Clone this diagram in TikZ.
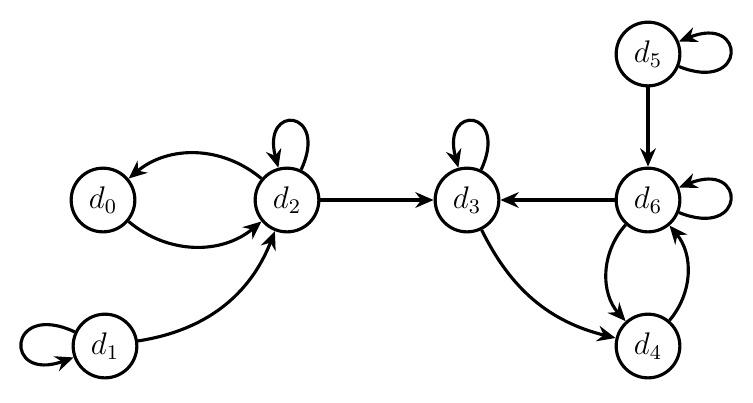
\documentclass[tikz,border=0pt]{standalone}
\usetikzlibrary{arrows.meta}
\begin{document}
\begin{tikzpicture}[x=0.01351cm,y=-0.01351cm,
  st/.style={circle,draw,very thick,minimum size=0.86cm,inner sep=0pt,font=\large},
  ed/.style={very thick,-{Stealth[length=7pt,width=6pt]}},
  lp/.style={looseness=7.5}]
\useasboundingbox (0,0) rectangle (753,402);
\node[st] (d0) at (103,200) {$d_0$};
\node[st] (d2) at (287,200) {$d_2$};
\node[st] (d1) at (105,346) {$d_1$};
\node[st] (d3) at (467,200) {$d_3$};
\node[st] (d6) at (648,200) {$d_6$};
\node[st] (d5) at (648,54) {$d_5$};
\node[st] (d4) at (648,346) {$d_4$};
\draw[ed] (d2) to[bend right=40] (d0);
\draw[ed] (d0) to[bend right=40] (d2);
\draw[ed,lp] (d2) to[out=65,in=105] (d2);
\draw[ed,lp] (d1) to[out=155,in=200] (d1);
\draw[ed] (d1) to[bend right=30] (d2);
\draw[ed] (d2) -- (d3);
\draw[ed,lp] (d3) to[out=65,in=105] (d3);
\draw[ed] (d6) -- (d3);
\draw[ed] (d5) -- (d6);
\draw[ed,lp] (d5) to[out=-22,in=22] (d5);
\draw[ed,lp] (d6) to[out=-22,in=22] (d6);
\draw[ed] (d6) to[bend right=42] (d4);
\draw[ed] (d4) to[bend right=40] (d6);
\draw[ed] (d3) to[bend right=25] (d4);
\end{tikzpicture}
\end{document}
